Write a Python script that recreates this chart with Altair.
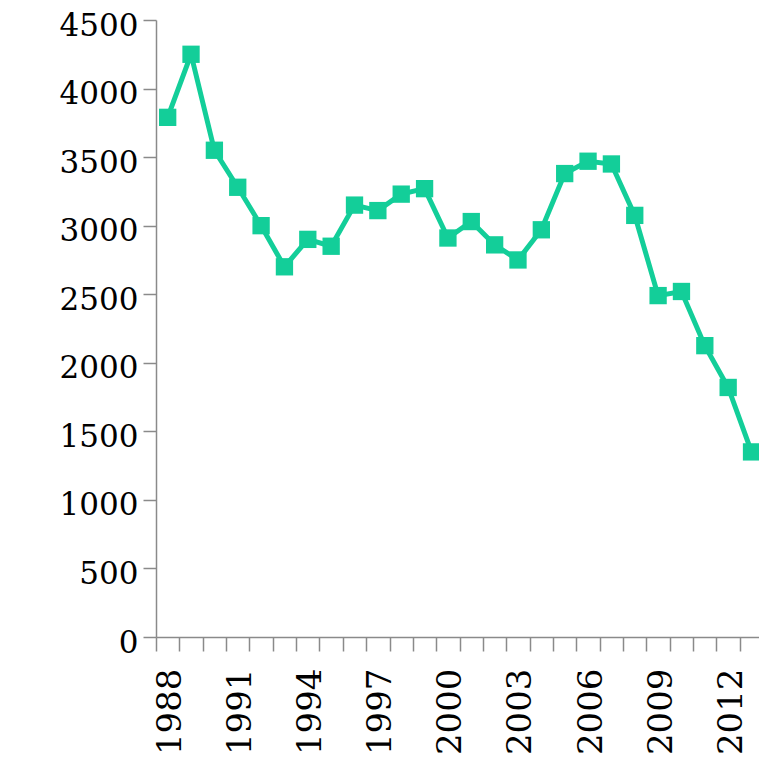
import altair as alt
import pandas as pd

years = list(range(1988, 2014))
values = [3790, 4250, 3550, 3280, 3000, 2700, 2900, 2850, 3150, 3110,
          3230, 3270, 2910, 3030, 2860, 2750, 2970, 3380, 3470, 3450,
          3075, 2490, 2520, 2125, 1820, 1350]
label_years = [1988, 1991, 1994, 1997, 2000, 2003, 2006, 2009, 2012]
y_ticks = [0, 500, 1000, 1500, 2000, 2500, 3000, 3500, 4000, 4500]

df = pd.DataFrame({"year": years, "value": values})

edges = [y - 0.5 for y in years] + [years[-1] + 0.5]
x_values = sorted(edges + label_years)

FONT = "DejaVu Serif"
COLOR = "#13CE99"
AX = "#8a8a8a"

x = alt.X(
    "year:Q",
    scale=alt.Scale(domain=[1987.5, 2013.32], nice=False, zero=False),
    axis=alt.Axis(
        title=None,
        values=x_values,
        labelExpr="datum.value % 1 == 0 ? toString(datum.value) : ''",
        labelAngle=-90,
        labelFont=FONT,
        labelFontSize=34,
        labelColor="#000",
        labelPadding=17,
        labelOffset=3,
        labelOverlap=False,
        labelFlush=False,
        tickSize=14,
        tickColor=AX,
        tickWidth=1.5,
        tickOpacity={"condition": {"test": "datum.value % 1 == 0", "value": 0}, "value": 1},
        domainColor=AX,
        domainWidth=1.5,
        grid=False,
    ),
)
y = alt.Y(
    "value:Q",
    scale=alt.Scale(domain=[0, 4500], nice=False),
    axis=alt.Axis(
        title=None,
        values=y_ticks,
        format="d",
        labelFont=FONT,
        labelFontSize=31,
        labelColor="#000",
        labelPadding=5,
        labelOffset=6,
        tickSize=13,
        tickColor=AX,
        tickWidth=1.5,
        domainColor=AX,
        domainWidth=1.5,
        grid=False,
    ),
)

base = alt.Chart(df).encode(x=x, y=y)
line = base.mark_line(color=COLOR, strokeWidth=5, clip=False)
pts = base.mark_point(shape="square", filled=True, size=300, color=COLOR, opacity=1, clip=False)

chart = (
    (line + pts)
    .properties(
        width=603,
        height=617,
        autosize=alt.AutoSizeParams(type="none"),
        padding={"left": 148, "top": 12, "right": 0, "bottom": 124},
    )
    .configure_view(stroke=None)
)

chart.save("out.html", embed_options={"renderer": "svg", "actions": False})
